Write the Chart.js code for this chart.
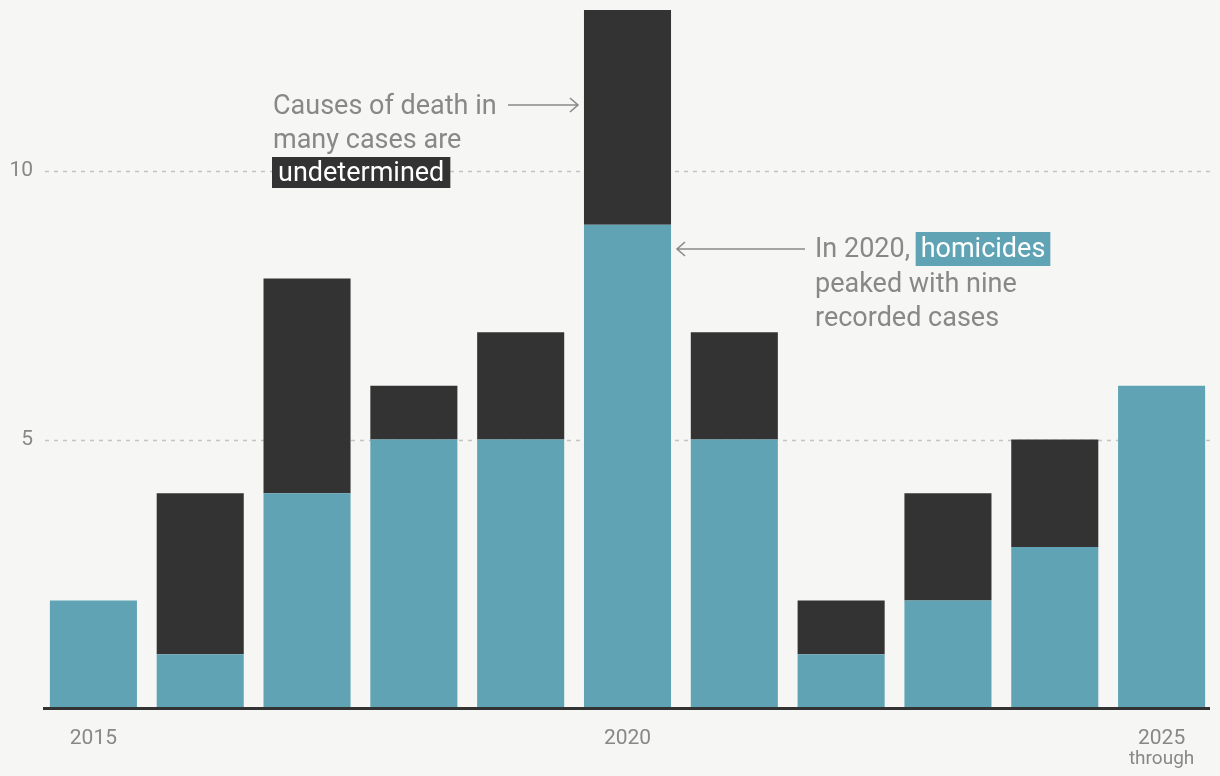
<!DOCTYPE html>
<html lang="en">
<head>
  <meta charset="UTF-8">
  <title>Homicides and undetermined deaths</title>
  <script src="https://cdn.jsdelivr.net/npm/chart.js"></script>
  <style>
    body {
      margin: 0;
      background-color: #f6f6f4;
    }
    .chart-box {
      width: 1220px;
      height: 776px;
    }
  </style>
</head>
<body>
  <div class="chart-box">
    <canvas id="deathsChart" width="1220" height="776"></canvas>
  </div>

  <script>
    // Data
    const years = ['2015', '2016', '2017', '2018', '2019', '2020', '2021', '2022', '2023', '2024', '2025'];
    const homicides = [2, 1, 4, 5, 5, 9, 5, 1, 2, 3, 6];
    const undetermined = [0, 3, 4, 1, 2, 4, 2, 1, 2, 2, 0];
    const yTicks = [5, 10];
    const xTickYears = ['2015', '2020', '2025'];

    const TEAL = '#5fa3b5';
    const DARK = '#333333';
    const GREY = '#888888';
    const FONT = 'Roboto, "Noto Sans", sans-serif';

    // Grid, axis, tick labels and notes
    const decorations = {
      id: 'decorations',
      beforeDatasetsDraw(chart) {
        const { ctx, scales: { y } } = chart;
        ctx.save();
        ctx.strokeStyle = '#c4c4c4';
        ctx.lineWidth = 1.3;
        ctx.setLineDash([4, 5]);
        yTicks.forEach(v => {
          const py = Math.round(y.getPixelForValue(v)) + 0.5;
          ctx.beginPath();
          ctx.moveTo(45, py);
          ctx.lineTo(1210, py);
          ctx.stroke();
        });
        ctx.restore();
      },
      afterDatasetsDraw(chart) {
        const { ctx, scales: { x, y } } = chart;
        ctx.save();

        // baseline
        const base = y.getPixelForValue(0);
        ctx.fillStyle = '#333';
        ctx.fillRect(43, base - 1, 1167, 3);

        // y tick labels
        ctx.fillStyle = GREY;
        ctx.font = '21px ' + FONT;
        ctx.textAlign = 'right';
        ctx.textBaseline = 'middle';
        yTicks.forEach(v => ctx.fillText(String(v), 33, y.getPixelForValue(v)));

        // x tick labels
        ctx.textAlign = 'center';
        ctx.textBaseline = 'alphabetic';
        xTickYears.forEach(label => {
          const px = x.getPixelForValue(years.indexOf(label));
          ctx.fillText(label, px, 744);
        });
        ctx.font = '19px ' + FONT;
        ctx.fillText('through', x.getPixelForValue(years.length - 1), 764);

        // notes
        const meta = chart.getDatasetMeta(0);
        const peak = meta.data[years.indexOf('2020')];
        const half = peak.width / 2;
        ctx.font = '27px ' + FONT;
        ctx.textAlign = 'left';
        ctx.textBaseline = 'middle';

        ctx.fillStyle = GREY;
        ctx.fillText('Causes of death in', 273, 107);
        ctx.fillText('many cases are', 273, 141);
        ctx.fillStyle = DARK;
        const w1 = ctx.measureText('undetermined').width;
        ctx.fillRect(272, 157, w1 + 12, 31);
        ctx.fillStyle = '#ffffff';
        ctx.fillText('undetermined', 278, 174);

        ctx.fillStyle = GREY;
        ctx.fillText('In 2020,', 815, 250);
        const w0 = ctx.measureText('In 2020, ').width;
        const w2 = ctx.measureText('homicides').width;
        ctx.fillStyle = TEAL;
        ctx.fillRect(815 + w0 - 1, 232, w2 + 10, 34);
        ctx.fillStyle = '#ffffff';
        ctx.fillText('homicides', 815 + w0 + 4, 250);
        ctx.fillStyle = GREY;
        ctx.fillText('peaked with nine', 815, 285);
        ctx.fillText('recorded cases', 815, 319);

        // arrows
        ctx.strokeStyle = '#8a8a8a';
        ctx.lineWidth = 1.6;
        const tipR = peak.x - half - 6;
        ctx.beginPath();
        ctx.moveTo(508, 105);
        ctx.lineTo(tipR, 105);
        ctx.moveTo(tipR - 8, 98);
        ctx.lineTo(tipR, 105);
        ctx.lineTo(tipR - 8, 112);
        ctx.stroke();

        const tipL = peak.x + half + 6;
        ctx.beginPath();
        ctx.moveTo(805, 249);
        ctx.lineTo(tipL, 249);
        ctx.moveTo(tipL + 8, 242);
        ctx.lineTo(tipL, 249);
        ctx.lineTo(tipL + 8, 256);
        ctx.stroke();

        ctx.restore();
      }
    };

    new Chart(document.getElementById('deathsChart'), {
      type: 'bar',
      data: {
        labels: years,
        datasets: [
          {
            label: 'Homicides',
            data: homicides,
            backgroundColor: TEAL,
            barPercentage: 1,
            categoryPercentage: 0.815
          },
          {
            label: 'Undetermined',
            data: undetermined,
            backgroundColor: DARK,
            barPercentage: 1,
            categoryPercentage: 0.815
          }
        ]
      },
      options: {
        responsive: false,
        animation: false,
        layout: {
          padding: { left: 40, right: 5, top: 10, bottom: 68 }
        },
        plugins: {
          legend: { display: false },
          tooltip: { enabled: false }
        },
        scales: {
          x: { stacked: true, display: false },
          y: { stacked: true, display: false, min: 0, max: 13 }
        }
      },
      plugins: [decorations]
    });
  </script>
</body>
</html>
